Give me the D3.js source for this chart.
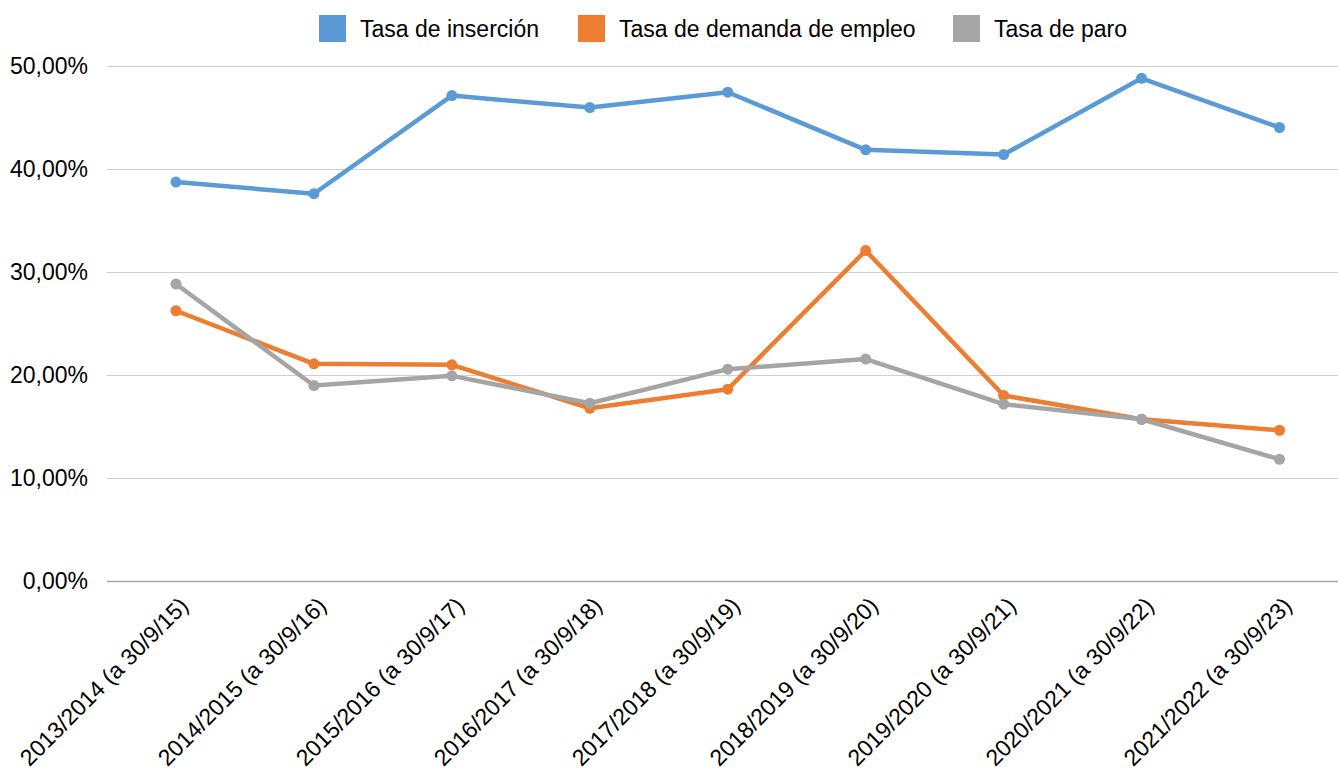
<!DOCTYPE html>
<html>
<head>
<meta charset="utf-8">
<script src="https://cdn.jsdelivr.net/npm/d3@7"></script>
<style>
  body { margin: 0; background: #fff; }
  svg text { font-family: "Liberation Sans", Arial, sans-serif; fill: #000; }
</style>
</head>
<body>
<svg id="chart" width="1338" height="769"></svg>
<script>
const categories = [
  "2013/2014 (a 30/9/15)",
  "2014/2015 (a 30/9/16)",
  "2015/2016 (a 30/9/17)",
  "2016/2017 (a 30/9/18)",
  "2017/2018 (a 30/9/19)",
  "2018/2019 (a 30/9/20)",
  "2019/2020 (a 30/9/21)",
  "2020/2021 (a 30/9/22)",
  "2021/2022 (a 30/9/23)"
];
const seriesNames = ["Tasa de inserción", "Tasa de demanda de empleo", "Tasa de paro"];
const insercion = [38.74, 37.61, 47.15, 45.99, 47.48, 41.88, 41.42, 48.83, 44.05];
const demanda = [26.23, 21.07, 20.97, 16.75, 18.6, 32.08, 17.99, 15.68, 14.61];
const paro = [28.83, 18.96, 19.9, 17.24, 20.55, 21.53, 17.14, 15.68, 11.79];
const yTicks = [0, 10, 20, 30, 40, 50];
const colors = ["#5b9bd5", "#ed7d31", "#a5a5a5"];

const series = [insercion, demanda, paro];

const svg = d3.select("#chart");
const plotLeft = 107, plotRight = 1338, plotTop = 66.3, plotBottom = 580.5;

const x = d3.scaleBand().domain(categories).range([plotLeft, 1348.5]);
const y = d3.scaleLinear().domain([0, 50]).range([plotBottom, plotTop]);
const fmt = v => d3.format(".2f")(v).replace(".", ",") + "%";
const cx = c => x(c) + x.bandwidth() / 2;

// gridlines
svg.append("g")
  .selectAll("line")
  .data(yTicks)
  .join("line")
  .attr("x1", plotLeft)
  .attr("x2", plotRight)
  .attr("y1", d => Math.round(y(d)) + 0.5)
  .attr("y2", d => Math.round(y(d)) + 0.5)
  .attr("stroke", d => d === 0 ? "#a6a6a6" : "#d0d0d0")
  .attr("stroke-width", d => d === 0 ? 1.5 : 1);

// y labels
svg.append("g")
  .selectAll("text")
  .data(yTicks)
  .join("text")
  .attr("x", 88)
  .attr("y", d => y(d))
  .attr("dy", "0.35em")
  .attr("text-anchor", "end")
  .attr("font-size", 23)
  .text(fmt);

// x labels, rotated
svg.append("g")
  .selectAll("text")
  .data(categories)
  .join("text")
  .attr("transform", d => `translate(${cx(d) + 8},${plotBottom + 21}) rotate(-45)`)
  .attr("text-anchor", "end")
  .attr("dy", "0.35em")
  .attr("font-size", 23)
  .text(d => d);

// lines
const line = d3.line()
  .x((d, i) => cx(categories[i]))
  .y(d => y(d));

series.forEach((vals, s) => {
  const g = svg.append("g");
  g.append("path")
    .datum(vals)
    .attr("d", line)
    .attr("fill", "none")
    .attr("stroke", colors[s])
    .attr("stroke-width", 4.5)
    .attr("stroke-linejoin", "round");
  g.selectAll("circle")
    .data(vals)
    .join("circle")
    .attr("cx", (d, i) => cx(categories[i]))
    .attr("cy", d => y(d))
    .attr("r", 5.5)
    .attr("fill", colors[s]);
});

// legend
const legendX = [319, 578, 953];
const legend = svg.append("g")
  .selectAll("g")
  .data(seriesNames)
  .join("g")
  .attr("transform", (d, i) => `translate(${legendX[i]},15)`);
legend.append("rect")
  .attr("width", 27)
  .attr("height", 27)
  .attr("fill", (d, i) => colors[i]);
legend.append("text")
  .attr("x", 41)
  .attr("y", 13.5)
  .attr("dy", "0.35em")
  .attr("font-size", 23)
  .text(d => d);
</script>
</body>
</html>
